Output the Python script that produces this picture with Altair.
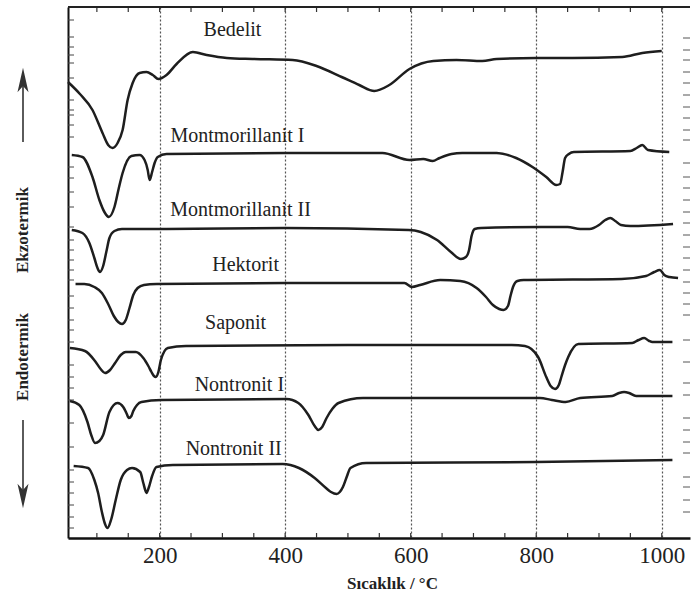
import altair as alt
import pandas as pd

# ---- DTA curves: temperature (°C) and signal height above the x axis (arbitrary units)
bedelit_T = [54, 73, 93, 109, 118, 125, 133, 141, 149, 157, 168, 179, 189, 198, 211, 227, 253, 275, 307, 348,
             412, 450, 490, 518, 542, 566, 598, 636, 673, 714, 737, 800, 858, 937, 969, 1000]
bedelit_v = [456, 444, 428, 405, 393, 390, 395, 408, 438, 455, 465, 466, 463, 459, 463, 474, 486, 483, 480, 479,
             478, 472, 461, 453, 447, 453, 469, 477, 478, 477, 479, 480, 480, 481, 485, 487]

mont1_T = [60, 77, 93, 104, 112, 119, 128, 135, 141, 155, 168, 176, 181, 184, 188, 192, 197, 211, 400, 555,
           598, 620, 635, 646, 665, 682, 737, 768, 794, 816, 832, 838, 842, 846, 852, 860, 950, 960, 969, 978, 1012]
mont1_v = [383, 381, 361, 338, 326, 321, 331, 350, 365, 382, 383, 378, 368, 358, 366, 375, 381, 384, 385, 385,
           378, 379, 377, 380, 384, 385, 385, 380, 371, 361, 353, 354, 366, 380, 384, 386, 387, 390, 393, 388, 386]

mont2_T = [60, 77, 88, 96, 101, 105, 110, 115, 120, 128, 140, 211, 400, 597, 616, 642, 664, 680, 688, 693,
           697, 702, 712, 808, 850, 870, 885, 900, 910, 918, 926, 935, 950, 1018]
mont2_v = [308, 305, 295, 280, 270, 266, 272, 286, 300, 307, 309, 309, 310, 308, 306, 298, 286, 279, 281, 288,
           302, 309, 310, 311, 311, 309, 309, 313, 318, 320, 317, 313, 312, 314]

hekt_T = [66, 80, 96, 108, 118, 127, 134, 140, 146, 152, 158, 165, 175, 195, 400, 590, 602, 615, 647, 679,
          705, 720, 731, 741, 748, 755, 759, 763, 770, 780, 936, 975, 988, 997, 1004, 1012, 1026]
hekt_v = [254, 254, 251, 245, 234, 222, 216, 214, 218, 230, 243, 250, 253, 254, 255, 255, 251, 253, 258, 257,
          250, 241, 233, 229, 228, 232, 242, 251, 257, 258, 259, 262, 266, 268, 263, 261, 260]

sapo_T = [57, 81, 97, 106, 113, 121, 129, 138, 146, 162, 174, 182, 187, 191, 194, 198, 202, 213, 242, 500,
          761, 782, 803, 816, 823, 830, 836, 840, 846, 851, 867, 953, 963, 972, 980, 985, 1017]
sapo_v = [190, 187, 177, 169, 165, 168, 175, 183, 186, 186, 180, 172, 166, 162, 161, 166, 178, 190, 192, 193,
          193, 192, 181, 161, 152, 149, 153, 161, 173, 181, 194, 195, 198, 200, 197, 196, 196]

nont1_T = [57, 72, 85, 91, 97, 104, 110, 120, 133, 142, 147, 151, 155, 158, 164, 171, 203, 402, 421, 437,
           447, 453, 459, 466, 475, 485, 524, 806, 825, 847, 870, 921, 932, 940, 948, 959, 1017]
nont1_v = [137, 133, 116, 103, 95, 97, 103, 126, 135, 131, 125, 120, 122, 127, 133, 136, 138, 139, 135, 123,
           112, 108, 111, 120, 129, 135, 140, 140, 138, 136, 140, 142, 145, 146, 145, 142, 142]

nont2_T = [63, 86, 96, 102, 108, 113, 117, 123, 130, 138, 148, 156, 169, 174, 177, 179, 183, 188, 195, 221,
           396, 422, 447, 465, 473, 482, 487, 492, 498, 504, 529, 800, 1017]
nont2_v = [72, 70, 58, 45, 26, 14, 10, 19, 38, 58, 68, 70, 66, 55, 48, 45, 51, 62, 71, 73,
           74, 70, 60, 50, 46, 44, 46, 51, 61, 70, 75, 76, 78]

# ---- curve labels
label_names = ["Bedelit", "Montmorillanit I", "Montmorillanit II", "Hektorit", "Saponit", "Nontronit I", "Nontronit II"]
label_T = [316, 324, 329, 337, 321, 327, 318]
label_v = [502, 396, 322, 267, 209, 147, 83]

# ---- axis decoration
grid_T = [200, 400, 600, 800, 1000]
edge_ticks_T = [100, 150, 200, 250, 300, 350, 400, 450, 500, 550, 600, 650, 700, 750, 800, 850, 900, 950, 1000]
left_ticks_v = [518, 501, 491, 483, 475, 460, 438, 428, 423, 413, 401, 371, 360, 346, 331, 311, 298, 288, 278,
                268, 258, 242, 230, 218, 208, 196, 173, 161, 150, 138, 115, 91, 68, 56, 45, 33, 21, 10]
right_ticks_v = [500, 488, 478, 466, 455, 443, 431, 420, 408, 398, 375, 361, 350, 338, 326, 315, 303, 291, 280,
                 268, 256, 245, 234, 223, 198, 176, 155, 143, 120, 108, 96, 85, 61, 51, 38, 26]

curves = [
    ("Bedelit", bedelit_T, bedelit_v),
    ("Montmorillanit I", mont1_T, mont1_v),
    ("Montmorillanit II", mont2_T, mont2_v),
    ("Hektorit", hekt_T, hekt_v),
    ("Saponit", sapo_T, sapo_v),
    ("Nontronit I", nont1_T, nont1_v),
    ("Nontronit II", nont2_T, nont2_v),
]
rows = []
for name, ts, vs in curves:
    for t, v in zip(ts, vs):
        rows.append({"series": name, "T": t, "v": v})
df = pd.DataFrame(rows)
labels_df = pd.DataFrame({"name": label_names, "T": label_T, "v": label_v})

W, H = 622, 531
SERIF = "Liberation Serif"
INK = "#1e1e1e"

x_scale = alt.Scale(domain=[54, 1045], nice=False, zero=False)
y_scale = alt.Scale(domain=[0, 531], nice=False, zero=False)

lines = alt.Chart(df).mark_line(interpolate="monotone", color=INK, strokeWidth=2.5).encode(
    x=alt.X("T:Q", scale=x_scale,
            axis=alt.Axis(values=grid_T, format="d", grid=True, gridDash=[2, 2], gridColor="#555", gridWidth=1.2,
                          domainColor="#111", domainWidth=2.5, ticks=False, labelFlush=False,
                          labelFont=SERIF, labelFontSize=23, labelColor="#222", labelPadding=6,
                          title="Sıcaklık / °C", titleFont=SERIF, titleFontSize=17, titleFontWeight="bold",
                          titleColor="#222", titleX=324, titleY=50, titleBaseline="alphabetic")),
    y=alt.Y("v:Q", scale=y_scale,
            axis=alt.Axis(labels=False, ticks=False, grid=False, title=None,
                          domainColor="#111", domainWidth=2)),
    detail="series:N",
)

texts = alt.Chart(labels_df).mark_text(font=SERIF, fontSize=20, color="#222", align="center",
                                       baseline="alphabetic").encode(
    x=alt.X("T:Q", scale=x_scale), y=alt.Y("v:Q", scale=y_scale), text="name:N")

edge_df = pd.DataFrame({"T": edge_ticks_T})
bottom_ticks = alt.Chart(edge_df).mark_rule(color="#333", strokeWidth=1.2).encode(
    x=alt.X("T:Q", scale=x_scale), y=alt.value(H), y2=alt.value(H - 5))
top_ticks = alt.Chart(edge_df).mark_rule(color="#333", strokeWidth=1.2).encode(
    x=alt.X("T:Q", scale=x_scale), y=alt.value(0), y2=alt.value(5))

left_ticks = alt.Chart(pd.DataFrame({"v": left_ticks_v})).mark_rule(color="#444", strokeWidth=1).encode(
    y=alt.Y("v:Q", scale=y_scale), x=alt.value(0), x2=alt.value(6))
right_ticks = alt.Chart(pd.DataFrame({"v": right_ticks_v})).mark_rule(color="#555", strokeWidth=1).encode(
    y=alt.Y("v:Q", scale=y_scale), x=alt.value(W - 7), x2=alt.value(W))

top_border = alt.Chart(pd.DataFrame({"a": [0]})).mark_rule(color="#222", strokeWidth=2).encode(
    x=alt.value(0), x2=alt.value(W), y=alt.value(0))

side_df = pd.DataFrame({"t": ["Ekzotermik", "Endotermik"], "py": [223, 350]})
side_text = alt.Chart(side_df).mark_text(font=SERIF, fontSize=17, fontWeight="bold", color="#222",
                                         angle=270, align="center", baseline="middle").encode(
    x=alt.value(-45.5), y=alt.Y("py:Q", scale=None), text="t:N")

arrow_up_line = alt.Chart(pd.DataFrame({"a": [0]})).mark_rule(color="#333", strokeWidth=1.6).encode(
    x=alt.value(-45), y=alt.value(135), y2=alt.value(70))
arrow_dn_line = alt.Chart(pd.DataFrame({"a": [0]})).mark_rule(color="#333", strokeWidth=1.6).encode(
    x=alt.value(-45), y=alt.value(413), y2=alt.value(495))
arrow_up_head = alt.Chart(pd.DataFrame({"a": [0]})).mark_point(
    shape="M0,-1L0.45,1L0,0.5L-0.45,1Z", filled=True, color="#333", size=600, opacity=1).encode(
    x=alt.value(-45), y=alt.value(73))
arrow_dn_head = alt.Chart(pd.DataFrame({"a": [0]})).mark_point(
    shape="M0,1L0.45,-1L0,-0.5L-0.45,-1Z", filled=True, color="#333", size=600, opacity=1).encode(
    x=alt.value(-45), y=alt.value(489))

chart = alt.layer(
    lines, texts, bottom_ticks, top_ticks, left_ticks, right_ticks, top_border,
    side_text, arrow_up_line, arrow_dn_line, arrow_up_head, arrow_dn_head,
).properties(
    width=W, height=H,
    autosize=alt.AutoSizeParams(type="none"),
    padding={"left": 68, "top": 7, "right": 1, "bottom": 63},
    background="white",
).configure_view(stroke=None)

chart.save("out.html", embed_options={"renderer": "svg", "actions": False})
